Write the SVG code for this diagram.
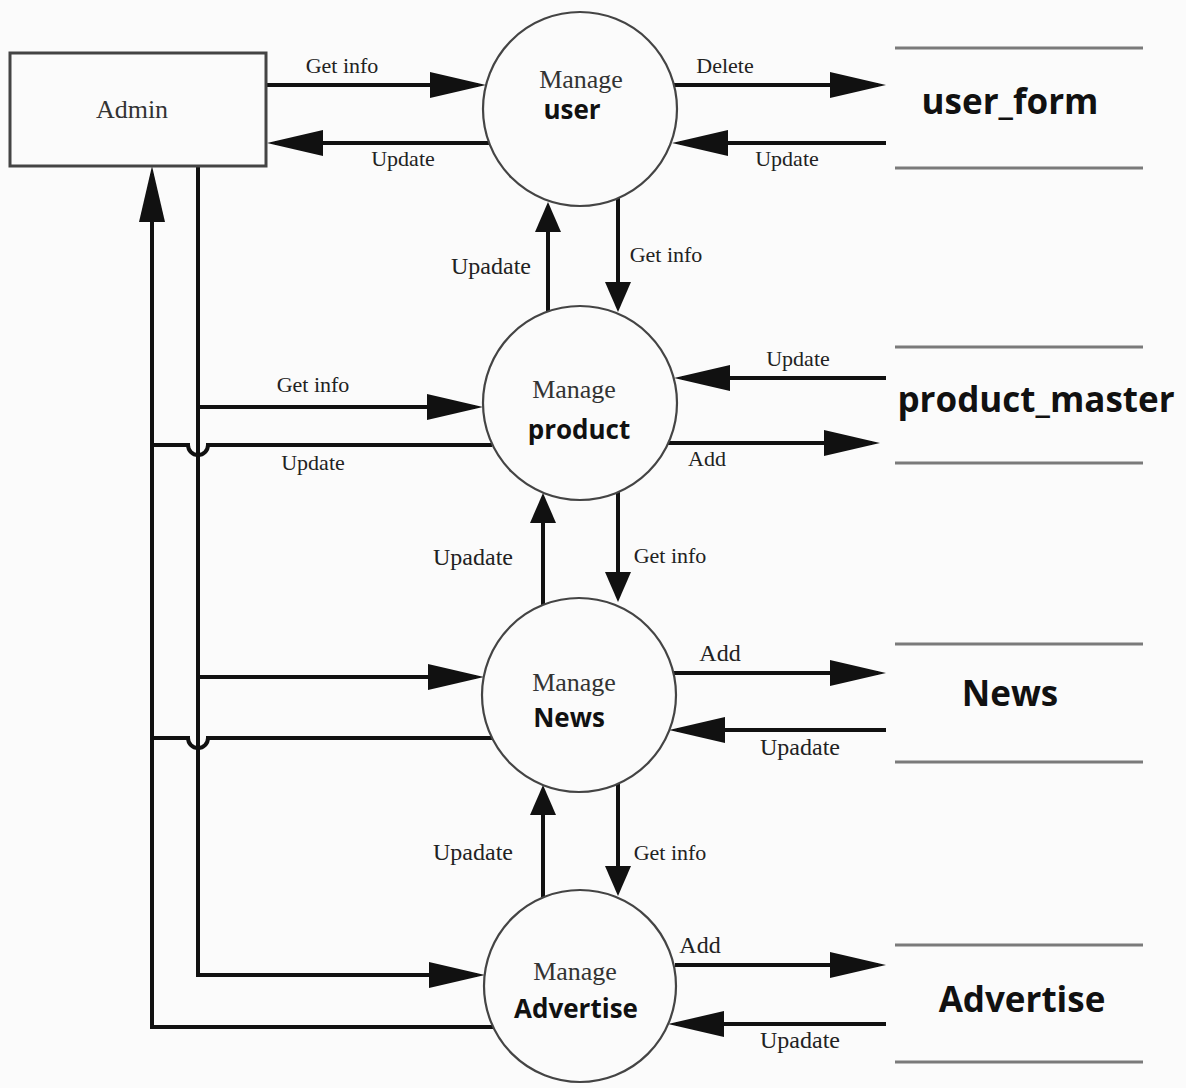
<svg xmlns="http://www.w3.org/2000/svg" width="1186" height="1088" viewBox="0 0 1186 1088">
  <defs>
    <style>
      .bg { fill: #fbfbfb; }
      .flow { fill: none; stroke: #111; stroke-width: 4; }
      .proc { fill: #fbfbfb; stroke: #444; stroke-width: 2.2; }
      .entity { fill: #fbfbfb; stroke: #444; stroke-width: 3; }
      .store { stroke: #7a7a7a; stroke-width: 3; }
      .lbl { font-family: "Liberation Serif", "Times New Roman", serif; font-size: 22px; fill: #222; text-anchor: middle; }
      .lbl-lg { font-size: 24px; }
      .pname { font-family: "Liberation Serif", "Times New Roman", serif; font-size: 26px; fill: #333; text-anchor: middle; }
      .pbold { font-family: "Open Sans", "Noto Sans", "Liberation Sans", sans-serif; font-weight: bold; font-size: 26px; fill: #111; text-anchor: middle; }
      .sname { font-family: "Open Sans", "Noto Sans", "Liberation Sans", sans-serif; font-weight: bold; font-size: 35px; fill: #111; text-anchor: middle; }
    </style>
    <marker id="head" markerUnits="userSpaceOnUse" markerWidth="56" markerHeight="26" refX="48" refY="13" orient="auto">
      <path d="M0,0 L56,13 L0,26 Z" fill="#111"/>
    </marker>
    <marker id="headS" markerUnits="userSpaceOnUse" markerWidth="30" markerHeight="26" refX="24" refY="13" orient="auto">
      <path d="M0,0 L30,13 L0,26 Z" fill="#111"/>
    </marker>
  </defs>

  <rect class="bg" x="0" y="0" width="1186" height="1088"/>

  <!-- data flows -->
  <g id="connectors">
    <!-- Admin <-> Manage user -->
    <line class="flow" x1="266" y1="85" x2="478" y2="85" marker-end="url(#head)"/>
    <line class="flow" x1="489" y1="143" x2="275" y2="143" marker-end="url(#head)"/>
    <!-- Manage user <-> user_form -->
    <line class="flow" x1="674" y1="85" x2="878" y2="85" marker-end="url(#head)"/>
    <line class="flow" x1="886" y1="143" x2="680" y2="143" marker-end="url(#head)"/>

    <!-- Admin trunk lines -->
    <line class="flow" x1="152" y1="1029" x2="152" y2="174" marker-end="url(#head)"/>
    <path class="flow" d="M198,166 V975 H477" marker-end="url(#head)"/>
    <line class="flow" x1="198" y1="407" x2="475" y2="407" marker-end="url(#head)"/>
    <line class="flow" x1="198" y1="677" x2="476" y2="677" marker-end="url(#head)"/>
    <path class="flow" d="M492,445 H208 A10,10 0 0 1 188,445 H150"/>
    <path class="flow" d="M492,738 H208 A10,10 0 0 1 188,738 H150"/>
    <path class="flow" d="M493,1027 H152"/>

    <!-- Manage product <-> product_master -->
    <line class="flow" x1="886" y1="378" x2="682" y2="378" marker-end="url(#head)"/>
    <line class="flow" x1="668" y1="443" x2="872" y2="443" marker-end="url(#head)"/>

    <!-- Manage News <-> News -->
    <line class="flow" x1="674" y1="673" x2="878" y2="673" marker-end="url(#head)"/>
    <line class="flow" x1="886" y1="730" x2="677" y2="730" marker-end="url(#head)"/>

    <!-- Manage Advertise <-> Advertise -->
    <line class="flow" x1="675" y1="965" x2="878" y2="965" marker-end="url(#head)"/>
    <line class="flow" x1="886" y1="1024" x2="676" y2="1024" marker-end="url(#head)"/>

    <!-- vertical flows between processes -->
    <line class="flow" x1="548" y1="312" x2="548" y2="208" marker-end="url(#headS)"/>
    <line class="flow" x1="618" y1="198" x2="618" y2="306" marker-end="url(#headS)"/>
    <line class="flow" x1="543" y1="605" x2="543" y2="499" marker-end="url(#headS)"/>
    <line class="flow" x1="618" y1="490" x2="618" y2="596" marker-end="url(#headS)"/>
    <line class="flow" x1="543" y1="897" x2="543" y2="791" marker-end="url(#headS)"/>
    <line class="flow" x1="618" y1="783" x2="618" y2="890" marker-end="url(#headS)"/>

    <!-- flow labels -->
    <text class="lbl" x="342" y="73">Get info</text>
    <text class="lbl" x="403" y="166">Update</text>
    <text class="lbl" x="725" y="73">Delete</text>
    <text class="lbl" x="787" y="166">Update</text>
    <text class="lbl lbl-lg" x="491" y="274">Upadate</text>
    <text class="lbl" x="666" y="262">Get info</text>
    <text class="lbl" x="313" y="392">Get info</text>
    <text class="lbl" x="313" y="470">Update</text>
    <text class="lbl" x="798" y="366">Update</text>
    <text class="lbl" x="707" y="466">Add</text>
    <text class="lbl lbl-lg" x="473" y="565">Upadate</text>
    <text class="lbl" x="670" y="563">Get info</text>
    <text class="lbl lbl-lg" x="720" y="661">Add</text>
    <text class="lbl lbl-lg" x="800" y="755">Upadate</text>
    <text class="lbl lbl-lg" x="473" y="860">Upadate</text>
    <text class="lbl" x="670" y="860">Get info</text>
    <text class="lbl lbl-lg" x="700" y="953">Add</text>
    <text class="lbl lbl-lg" x="800" y="1048">Upadate</text>
  </g>

  <!-- external entity -->
  <g id="admin">
    <rect class="entity" x="10" y="53" width="256" height="113"/>
    <text class="pname" x="132" y="118">Admin</text>
  </g>

  <!-- processes -->
  <g id="manage-user">
    <circle class="proc" cx="580" cy="109" r="97"/>
    <text class="pname" x="581" y="88">Manage</text>
    <text class="pbold" x="572" y="119">user</text>
  </g>
  <g id="manage-product">
    <circle class="proc" cx="580" cy="403" r="97"/>
    <text class="pname" x="574" y="398">Manage</text>
    <text class="pbold" x="579" y="439">product</text>
  </g>
  <g id="manage-news">
    <circle class="proc" cx="579" cy="695" r="97"/>
    <text class="pname" x="574" y="691">Manage</text>
    <text class="pbold" x="569" y="727">News</text>
  </g>
  <g id="manage-advertise">
    <circle class="proc" cx="580" cy="986" r="96"/>
    <text class="pname" x="575" y="980">Manage</text>
    <text class="pbold" x="576" y="1018">Advertise</text>
  </g>

  <!-- data stores -->
  <g id="store-user-form">
    <line class="store" x1="895" y1="48" x2="1143" y2="48"/>
    <line class="store" x1="895" y1="168" x2="1143" y2="168"/>
    <text class="sname" x="1010" y="114">user_form</text>
  </g>
  <g id="store-product-master">
    <line class="store" x1="895" y1="347" x2="1143" y2="347"/>
    <line class="store" x1="895" y1="463" x2="1143" y2="463"/>
    <text class="sname" x="1036" y="412">product_master</text>
  </g>
  <g id="store-news">
    <line class="store" x1="895" y1="644" x2="1143" y2="644"/>
    <line class="store" x1="895" y1="762" x2="1143" y2="762"/>
    <text class="sname" x="1010" y="706">News</text>
  </g>
  <g id="store-advertise">
    <line class="store" x1="895" y1="945" x2="1143" y2="945"/>
    <line class="store" x1="895" y1="1062" x2="1143" y2="1062"/>
    <text class="sname" x="1022" y="1012">Advertise</text>
  </g>
</svg>
